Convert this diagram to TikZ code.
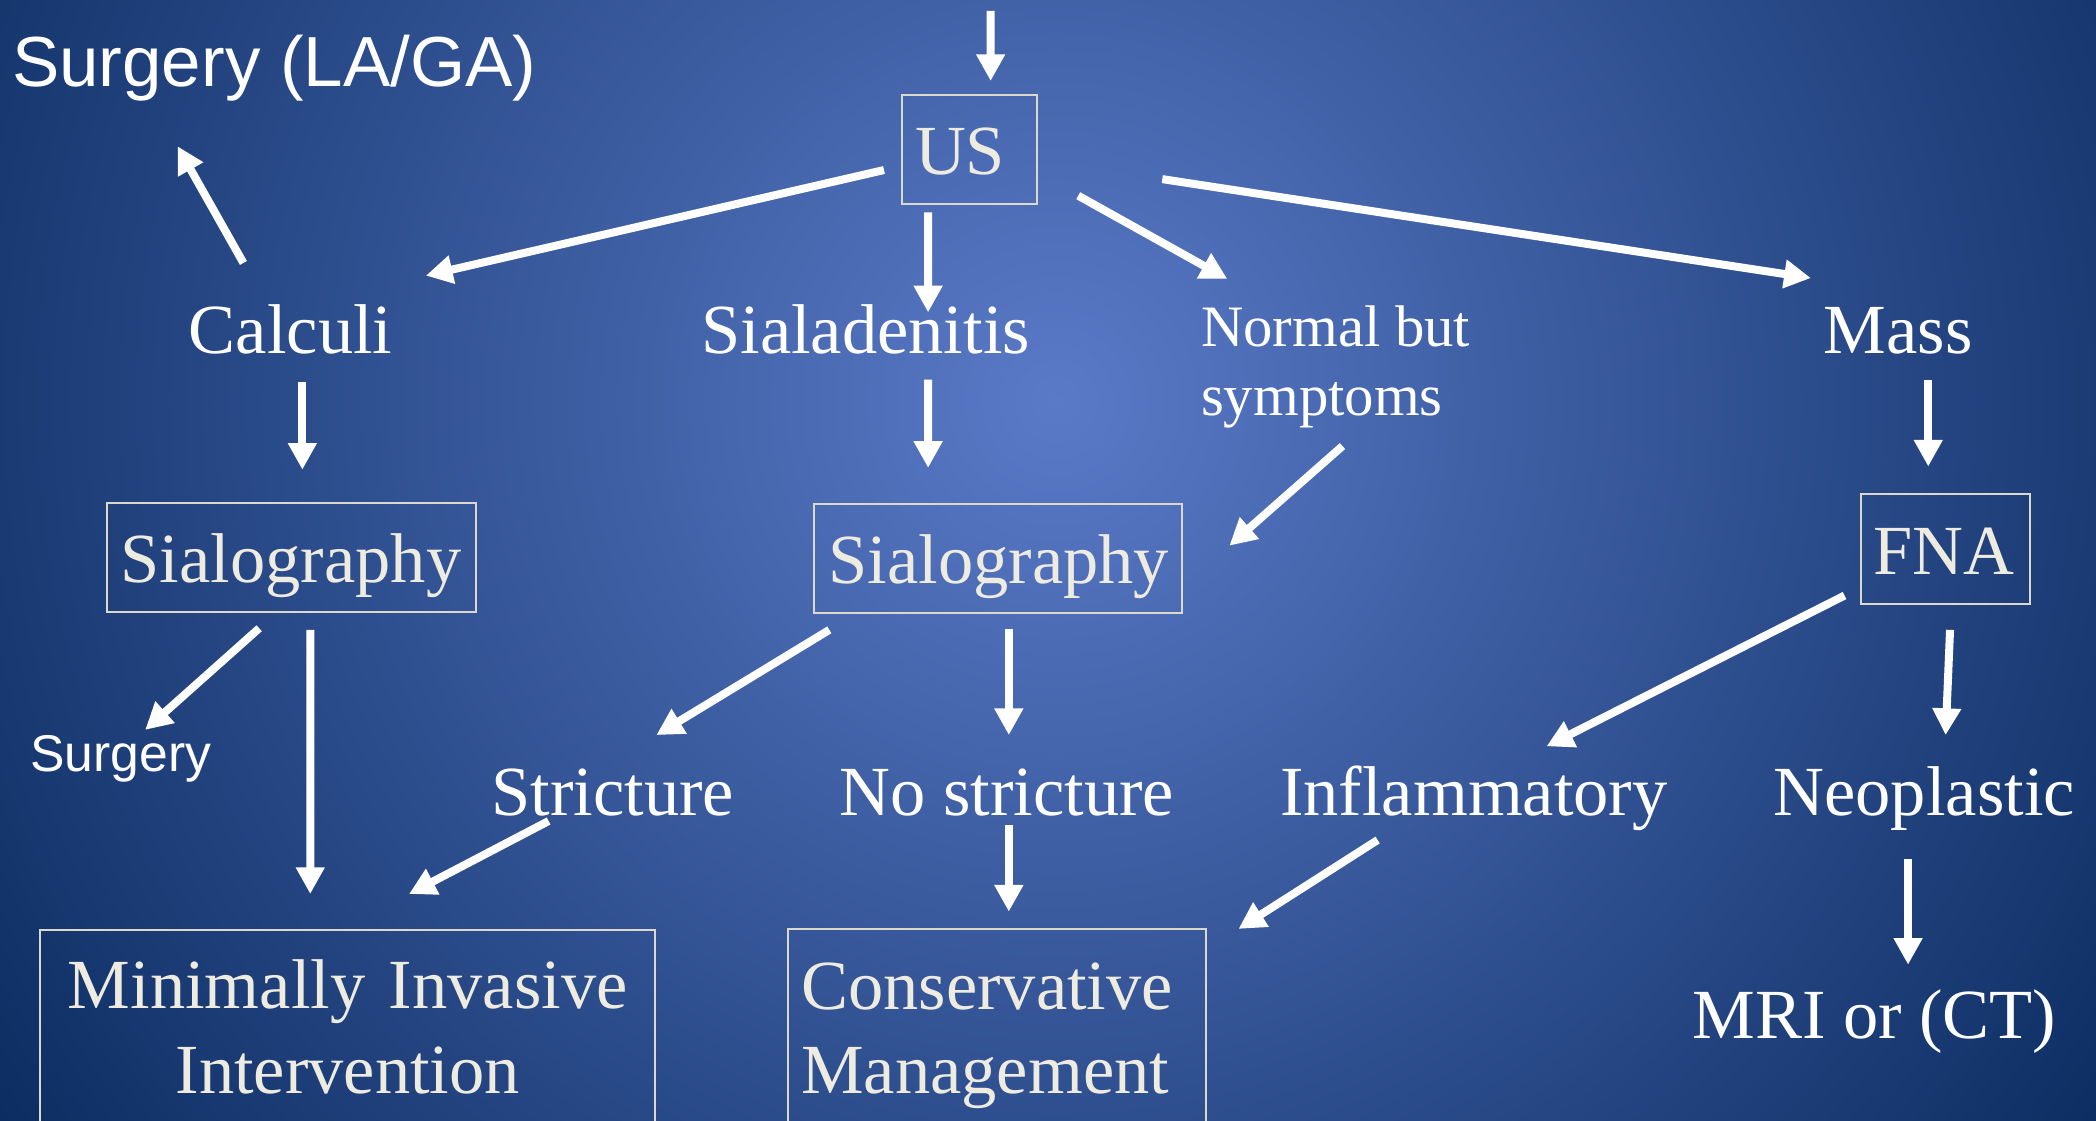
\documentclass[tikz,border=0pt]{standalone}
\usepackage{fontspec}
\setmainfont{Liberation Serif}
\newfontfamily\arialfont{Liberation Sans}
\usetikzlibrary{arrows.meta,calc}
\definecolor{bgin}{HTML}{5A7AC8}
\definecolor{bgout}{HTML}{0A2B5F}
\definecolor{boxtext}{HTML}{EEEBE0}
\definecolor{boxline}{HTML}{DCD8CC}
\pgfdeclareradialshading{bgshade}{\pgfpoint{0bp}{0bp}}{color(0bp)=(bgin); color(25bp)=(bgout); color(50bp)=(bgout)}
\begin{document}
\begin{tikzpicture}[x=0.02cm,y=-0.02cm,
  lbl/.style={text=white, inner sep=0pt, font=\fontsize{30}{36}\selectfont},
  boxnode/.style={draw=boxline, line width=0.85pt, text=boxtext, inner ysep=0pt,
    text height=1.195cm, text depth=0.44cm, align=left, font=\fontsize{30}{36}\selectfont},
  bigbox/.style={draw=boxline, line width=0.85pt, text=boxtext, inner xsep=0.2cm,
    font=\fontsize{30}{35.9}\selectfont},
  arr/.style={draw=white, line width=3.4pt, -{Triangle[length=0.4cm,width=0.41cm]}},
]
\useasboundingbox (0,0) rectangle (1568,838);
\begin{scope}
  \clip (0,0) rectangle (1568,838);
  \fill[bgout] (0,0) rectangle (1568,838);
  \shade[shading=bgshade] (790,300) circle (19.6cm);
\end{scope}

% boxed nodes
\node[boxnode, inner xsep=0.2cm, text width=1.626cm, anchor=base] (us) at (725.2,130.9) {US};
\node[boxnode, inner xsep=0.2cm, text width=5.11cm, anchor=base] (sg1) at (218.05,435.7) {Sialography};
\node[boxnode, inner xsep=0.22cm, text width=5.064cm, anchor=base] (sg2) at (746.4,436.5) {Sialography};
\node[boxnode, inner xsep=0.188cm, text width=2.146cm, anchor=base] (fna) at (1455.35,429.5) {FNA};
\node[bigbox, align=center, text width=8.81cm, minimum height=2.912cm] (mini) at (260.15,768.2) {Minimally Invasive\\Intervention};
\node[bigbox, align=left, text width=5.852cm, minimum height=3.19cm] (cons) at (745.7,774.65) {Conservative\\Management};

% plain labels
\node[lbl, anchor=base, font=\arialfont\fontsize{30.2}{36}\selectfont] (surg1) at (205.2,64.5) {Surgery (LA/GA)};
\node[lbl, anchor=base] (calculi) at (217.5,264.2) {Calculi};
\node[lbl, anchor=base] (sial) at (647.6,264.2) {Sialadenitis};
\node[lbl, anchor=north west, align=left, font=\fontsize{25}{29.5}\selectfont] (normal) at (898.2,228.3) {Normal but\\symptoms};
\node[lbl, anchor=base] (mass) at (1420.1,264.2) {Mass};
\node[lbl, anchor=base, font=\arialfont\fontsize{22}{26}\selectfont] (surg2) at (90.4,576.8) {Surgery};
\node[lbl, anchor=base] (strict) at (458.5,609.9) {Stricture};
\node[lbl, anchor=base] (nostrict) at (753.2,609.9) {No stricture};
\node[lbl, anchor=base] (infl) at (1102.6,609.9) {Inflammatory};
\node[lbl, anchor=base] (neo) at (1439.5,609.9) {Neoplastic};
\node[lbl, anchor=base] (mri) at (1402.2,777.1) {MRI or (CT)};
\coordinate (entry) at (741.1,8.2);

% arrows
\draw[arr] (entry) -- ($(us.base)+(15.9,-70.3)$);
\draw[arr] ($(us.base)+(-63.9,-3.7)$) -- ($(calculi.base)+(101.1,-58)$);
\draw[arr] ($(calculi.base)+(-35.4,-67.5)$) -- ($(surg1.base)+(-72.4,44.9)$);
\draw[arr] ($(us.base)+(-30.9,28)$) -- ($(sial.base)+(46.7,-30.5)$);
\draw[arr] ($(calculi.base)+(8.7,21.3)$) -- ($(sg1.base)+(8.15,-84.3)$);
\draw[arr] ($(sial.base)+(46.7,19.8)$) -- ($(sg2.base)+(-52.1,-86.5)$);
\draw[arr] ($(us.base)+(81.4,15.5)$) -- ($(normal.north west)+(19.9,-19.7)$);
\draw[arr] ($(us.base)+(144.3,3.1)$) -- ($(mass.base)+(-65.4,-56.2)$);
\draw[arr] ($(normal.north west)+(106.1,105.4)$) -- ($(sg2.base)+(173.3,-28.3)$);
\draw[arr] ($(mass.base)+(22.4,19.8)$) -- ($(fna.base)+(-12.85,-80.5)$);
\draw[arr] ($(sg1.base)+(-24.15,34.3)$) -- ($(surg2.base)+(18.2,-30.8)$);
\draw[arr] ($(sg1.base)+(14.05,35.5)$) -- ($(mini.center)+(-28.05,-99.4)$);
\draw[arr] ($(sg2.base)+(-126,34.7)$) -- ($(strict.base)+(32.5,-60)$);
\draw[arr] ($(sg2.base)+(8.3,34.2)$) -- ($(nostrict.base)+(1.5,-60)$);
\draw[arr] ($(strict.base)+(-48.1,4.3)$) -- ($(mini.center)+(45.85,-99.4)$);
\draw[arr] ($(nostrict.base)+(1.5,6.9)$) -- ($(cons.center)+(9,-92.65)$);
\draw[arr] ($(fna.base)+(-75.45,16)$) -- ($(infl.base)+(54.4,-51.6)$);
\draw[arr] ($(fna.base)+(3.45,41.7)$) -- ($(neo.base)+(16,-60)$);
\draw[arr] ($(infl.base)+(-72,18.5)$) -- ($(cons.center)+(180.8,-79.75)$);
\draw[arr] ($(neo.base)+(-12.1,32.7)$) -- ($(mri.base)+(25.2,-55.4)$);
\end{tikzpicture}
\end{document}
